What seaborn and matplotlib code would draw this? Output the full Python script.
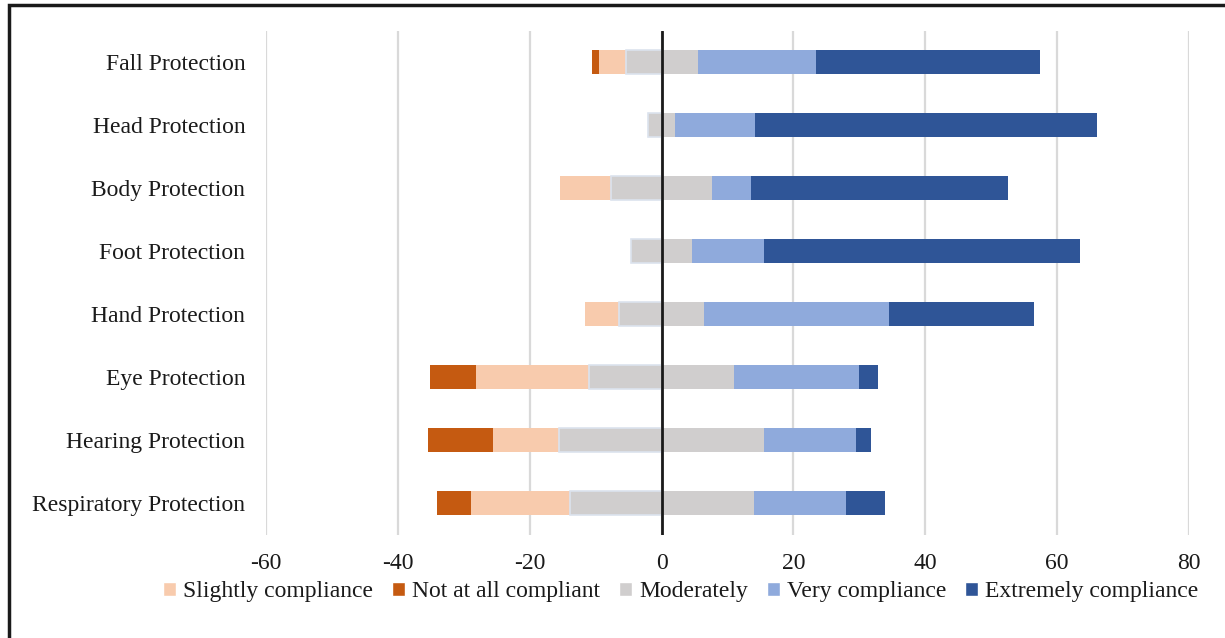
import numpy as np
import pandas as pd
import matplotlib as mpl
import matplotlib.pyplot as plt
import seaborn as sns
from matplotlib.patches import Patch, Rectangle

sns.set_theme(style='white')
mpl.rcParams['font.family'] = ['Liberation Serif', 'DejaVu Serif']
mpl.rcParams['font.size'] = 17
mpl.rcParams['axes.unicode_minus'] = False

#%% data (percent of respondents)

items = ['Fall Protection', 'Head Protection', 'Body Protection', 'Foot Protection',
         'Hand Protection', 'Eye Protection', 'Hearing Protection', 'Respiratory Protection']
not_at_all = [1.0, 0.0, 0.0, 0.0, 0.0, 7.1, 10.0, 5.2]
slightly = [4.1, 0.0, 7.8, 0.0, 5.1, 17.1, 10.0, 14.9]
moderately = [10.9, 4.2, 15.2, 9.2, 12.9, 22.0, 31.0, 27.9]
very = [17.9, 12.0, 5.9, 10.9, 28.1, 19.0, 14.0, 14.0]
extremely = [34.0, 52.0, 39.1, 48.0, 22.0, 2.9, 2.3, 6.0]

legend_order = ['Slightly compliance', 'Not at all compliant', 'Moderately',
                'Very compliance', 'Extremely compliance']
colors = {'Slightly compliance': '#F8CBAD', 'Not at all compliant': '#C55A11',
          'Moderately': '#D0CECE', 'Very compliance': '#8FAADC',
          'Extremely compliance': '#2F5597'}

df = pd.DataFrame({'item': items, 'not_at_all': not_at_all, 'slightly': slightly,
                   'moderately': moderately, 'very': very, 'extremely': extremely})
half = df.moderately / 2

# cumulative layers, drawn outermost first so the inner ones sit on top
layers = [
    ('Extremely compliance', half + df.very + df.extremely),
    ('Very compliance', half + df.very),
    ('Moderately', half),
    ('Not at all compliant', -(half + df.slightly + df.not_at_all)),
    ('Slightly compliance', -(half + df.slightly)),
    ('Moderately', -half),
]

#%% plot

fig = plt.figure(figsize=(12.25, 6.38), dpi=100)
ax = fig.add_axes([266/1225, 1 - 534.5/638, (1189-266)/1225, (534.5-30.5)/638])

for name, vals in layers:
    edge = '#DCE3EE' if (name == 'Moderately' and vals.sum() < 0) else 'none'
    sns.barplot(x=vals, y=df.item, orient='h', color=colors[name], width=0.38,
                saturation=1, edgecolor=edge, linewidth=1.2, ax=ax, zorder=3)

ax.axvline(0, color='k', lw=2, zorder=4)

ax.set_xlim(-60, 80)
ax.set_xticks(np.arange(-60, 81, 20))
ax.grid(axis='x', color='#D9D9D9', lw=1.6, zorder=0)
ax.grid(axis='y', visible=False)
ax.set_axisbelow(True)
ax.set_xlabel('')
ax.set_ylabel('')
ax.tick_params(axis='both', length=0, labelsize=17, colors='#1a1a1a')
ax.tick_params(axis='y', pad=15)
ax.tick_params(axis='x', pad=13)
sns.despine(ax=ax, left=True, bottom=True)

handles = [Patch(facecolor=colors[n], label=n) for n in legend_order]
fig.legend(handles=handles, loc='center', bbox_to_anchor=(681/1225, 1 - 592/638), ncol=5,
           frameon=False, handlelength=0.55, handleheight=0.55, handletextpad=0.3,
           columnspacing=0.8, fontsize=17, labelcolor='#1a1a1a')

# outer frame around the chart
fig.patches.append(Rectangle((9/1225, -0.05), 1.1, 1 - 5/638 + 0.05, transform=fig.transFigure,
                             fill=False, edgecolor='k', lw=2.5))

fig.savefig('out.png', dpi=100)
